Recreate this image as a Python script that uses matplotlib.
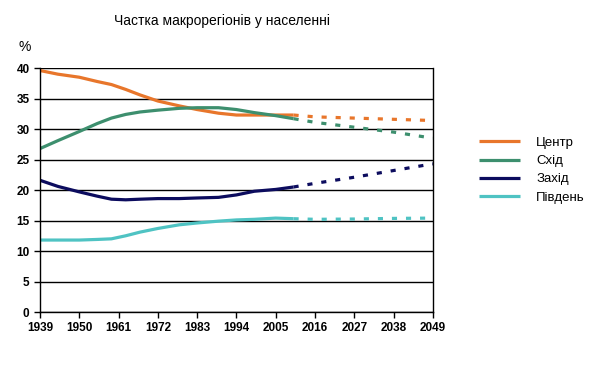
import matplotlib
matplotlib.use('Agg')
import matplotlib.pyplot as plt

plt.rcParams['font.family'] = ['Liberation Sans', 'DejaVu Sans']

# observed part (solid)
years_obs = [1939, 1944, 1950, 1955, 1959, 1963, 1967, 1972, 1978, 1983, 1989, 1994, 1999, 2005, 2010]
centr_obs = [39.6, 39.0, 38.5, 37.8, 37.3, 36.5, 35.6, 34.6, 33.8, 33.2, 32.6, 32.3, 32.3, 32.3, 32.3]
skhid_obs = [26.8, 28.1, 29.6, 30.9, 31.8, 32.4, 32.8, 33.1, 33.4, 33.5, 33.5, 33.2, 32.7, 32.2, 31.7]
zakhid_obs = [21.6, 20.6, 19.7, 19.0, 18.5, 18.4, 18.5, 18.6, 18.6, 18.7, 18.8, 19.2, 19.8, 20.1, 20.5]
pivden_obs = [11.8, 11.8, 11.8, 11.9, 12.0, 12.5, 13.1, 13.7, 14.3, 14.6, 14.9, 15.1, 15.2, 15.4, 15.3]

# forecast part (dashed)
years_fc = [2010, 2016, 2027, 2038, 2049]
centr_fc = [32.3, 32.0, 31.8, 31.6, 31.4]
skhid_fc = [31.7, 31.1, 30.3, 29.5, 28.5]
zakhid_fc = [20.5, 21.1, 22.1, 23.2, 24.3]
pivden_fc = [15.3, 15.2, 15.25, 15.35, 15.4]

names = ['Центр', 'Схід', 'Захід', 'Південь']
colors = ['#e8762b', '#3d8f6e', '#0c0c5e', '#4fc3c3']
xticks = [1939, 1950, 1961, 1972, 1983, 1994, 2005, 2016, 2027, 2038, 2049]

fig = plt.figure(figsize=(5.97, 3.66), dpi=100)
ax = fig.add_axes([0.067, 0.1475, 0.658, 0.6665])

obs = [centr_obs, skhid_obs, zakhid_obs, pivden_obs]
fc = [centr_fc, skhid_fc, zakhid_fc, pivden_fc]
for name, col, o, f in zip(names, colors, obs, fc):
    ax.plot(years_obs, o, color=col, lw=2.3, label=name, solid_capstyle='butt')
    ax.plot(years_fc, f, color=col, lw=2.3, linestyle=(0, (1.6, 2.8)))

ax.set_xlim(1939, 2049)
ax.set_ylim(0, 40)
ax.set_yticks(range(0, 41, 5))
ax.set_xticks(xticks)
ax.grid(axis='y', color='black', lw=1)
ax.set_axisbelow(True)
ax.spines['top'].set_visible(False)
for s in ['left', 'bottom', 'right']:
    ax.spines[s].set_linewidth(1)
ax.tick_params(direction='out', length=4, width=1, labelsize=8.5)
for lbl in ax.get_xticklabels() + ax.get_yticklabels():
    lbl.set_fontweight('bold')

fig.text(0.372, 0.942, 'Частка макрорегіонів у населенні', ha='center', va='center', fontsize=10)
fig.text(0.042, 0.872, '%', ha='center', va='center', fontsize=10)

ax.legend(loc='center left', bbox_to_anchor=(0.783, 0.535), bbox_transform=fig.transFigure,
          frameon=False, fontsize=9.5, handlelength=3.1, labelspacing=0.45, handletextpad=1.2)

fig.savefig('out.png', dpi=100)
